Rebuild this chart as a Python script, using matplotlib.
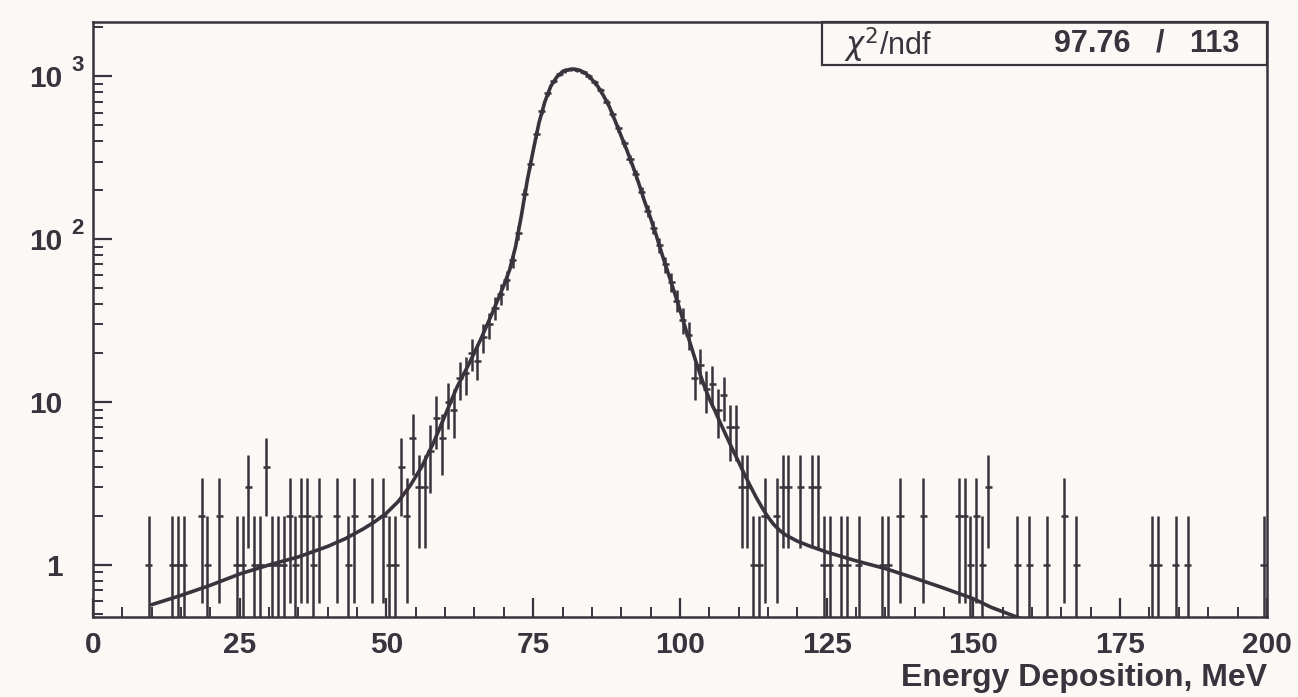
import numpy as np
import matplotlib.pyplot as plt
from matplotlib.ticker import FixedLocator, NullFormatter

plt.rcParams['font.family'] = ['Liberation Sans', 'DejaVu Sans']

# 1 MeV bins: centre (MeV) and counts
lo_e = [9.5, 13.5, 14.5, 15.5, 18.5, 19.5, 21.5, 24.5, 25.5, 26.5, 27.5, 28.5,
        29.5, 30.5, 31.5, 32.5, 33.5, 34.5, 35.5, 36.5, 37.5, 38.5, 41.5, 43.5,
        44.5, 47.5, 49.5, 50.5, 51.5, 52.5, 53.5, 54.5, 55.5]
lo_n = [1, 1, 1, 1, 2, 1, 2, 1, 1, 3, 1, 1,
        4, 1, 1, 1, 2, 1, 2, 2, 1, 2, 2, 1,
        2, 2, 2, 1, 1, 4, 2, 6, 3]

peak_e = [56.5, 57.5, 58.5, 59.5, 60.5, 61.5, 62.5, 63.5, 64.5, 65.5, 66.5,
          67.5, 68.5, 69.5, 70.5, 71.5, 72.5, 73.5, 74.5, 75.5, 76.5, 77.5,
          78.5, 79.5, 80.5, 81.5, 82.5, 83.5, 84.5, 85.5, 86.5, 87.5, 88.5,
          89.5, 90.5, 91.5, 92.5, 93.5, 94.5, 95.5, 96.5, 97.5, 98.5, 99.5,
          100.5, 101.5, 102.5, 103.5, 104.5, 105.5, 106.5, 107.5, 108.5,
          109.5, 110.5, 111.5]
peak_n = [3, 5, 8, 6, 10, 9, 14, 15, 20, 18, 25,
          30, 38, 46, 56, 75, 110, 190, 290, 440, 610, 790,
          940, 1040, 1090, 1110, 1100, 1070, 1000, 920, 820, 700, 590,
          480, 390, 310, 250, 195, 150, 118, 92, 70, 55, 42,
          32, 26, 14, 17, 12, 13, 9, 11, 7,
          7, 3, 3]

hi_e = [112.5, 113.5, 114.5, 116.5, 117.5, 118.5, 120.5, 122.5, 123.5, 124.5,
        125.5, 127.5, 128.5, 130.5, 134.5, 135.5, 137.5, 141.5, 147.5, 148.5,
        149.5, 150.5, 151.5, 152.5, 157.5, 159.5, 162.5, 165.5, 167.5, 180.5,
        181.5, 184.5, 186.5, 199.5]
hi_n = [1, 1, 2, 2, 3, 3, 3, 3, 3, 1,
        1, 1, 1, 1, 1, 1, 2, 2, 2, 2,
        1, 2, 1, 3, 1, 1, 1, 2, 1, 1,
        1, 1, 1, 1]

# fitted curve, points
fit_e = [10, 15, 20, 25, 30, 35, 40, 43, 46, 48, 50, 52, 54, 56, 58, 60, 62,
         64, 66, 68, 70, 71, 72, 73, 74, 75, 76, 77, 78, 79, 80, 81, 82, 83,
         84, 85, 86, 87, 88, 89, 90, 91, 92, 93, 94, 95, 96, 97, 98, 99, 100,
         101, 102, 103, 104, 105, 106, 107, 108, 109, 110, 111, 112, 113, 114,
         115, 116, 117, 118, 120, 122, 125, 130, 135, 140, 145, 150, 153, 156,
         158]
fit_v = [0.57, 0.65, 0.75, 0.88, 1.0, 1.12, 1.3, 1.45, 1.66, 1.84, 2.08,
         2.45, 3.05, 4.0, 5.6, 8.3, 12.3, 17, 24, 35, 52, 65, 90, 140, 230,
         350, 520, 700, 870, 990, 1070, 1100, 1110, 1090, 1040, 960, 870, 760,
         650, 530, 430, 350, 280, 220, 170, 135, 105, 80, 62, 48, 37, 28, 21.5,
         16.5, 13, 10.5, 8.8, 7.3, 6.1, 5.1, 4.3, 3.6, 3.05, 2.6, 2.25, 1.97,
         1.77, 1.63, 1.53, 1.4, 1.31, 1.2, 1.06, 0.95, 0.83, 0.72, 0.62, 0.55,
         0.5, 0.47]

x_ticks = [0, 25, 50, 75, 100, 125, 150, 175, 200]
y_ticks = [1, 10, 100, 1000]
y_labels = ['1', '10', '10', '10']
y_sups = {100: '2', 1000: '3'}
chi2_label = r'$\chi^2$/ndf'
chi2_value = '97.76   /   113'
x_title = 'Energy Deposition, MeV'

ink = '#3a323c'
paper = '#fbf9f6'

fig = plt.figure(figsize=(12.98, 6.97), dpi=100, facecolor=paper)
ax = fig.add_axes([0.0716, 0.115, 0.9044, 0.853])
ax.set_facecolor(paper)
ax.set_yscale('log')
ax.set_xlim(0, 200)
ax.set_ylim(0.48, 2150)

# data points with sqrt(N) errors
e_all = np.array(lo_e + peak_e + hi_e)
n_all = np.array(lo_n + peak_n + hi_n, dtype=float)
err = np.sqrt(n_all)
low = np.clip(n_all - err, 0.3, None)
ax.vlines(e_all, low, n_all + err, color=ink, lw=1.8)
ax.hlines(n_all, e_all - 0.6, e_all + 0.6, color=ink, lw=1.8)

ax.plot(fit_e, fit_v, color=ink, lw=2.6, solid_capstyle='round')

for s in ax.spines.values():
    s.set_color(ink)
    s.set_linewidth(1.8)

ax.xaxis.set_major_locator(FixedLocator(x_ticks))
ax.xaxis.set_minor_locator(FixedLocator(np.arange(0, 201, 5)))
ax.set_xticklabels([str(t) for t in x_ticks])
ax.yaxis.set_major_locator(FixedLocator(y_ticks))
ax.yaxis.set_minor_locator(FixedLocator(
    [m * 10.0 ** d for d in range(-1, 4) for m in range(2, 10)]))
ax.yaxis.set_minor_formatter(NullFormatter())
ax.set_yticklabels(y_labels)

ax.tick_params(which='both', direction='in', color=ink, top=False, right=False,
               labelcolor=ink)
ax.tick_params(which='major', length=14, width=1.6, labelsize=21.5)
ax.tick_params(which='minor', length=7.5, width=1.4)
ax.tick_params(axis='x', pad=10)
ax.tick_params(axis='y', pad=22)
for lab in ax.get_xticklabels() + ax.get_yticklabels():
    lab.set_fontweight('bold')

for val, sup in y_sups.items():
    ax.annotate(sup, xy=(0, val), xycoords=('axes fraction', 'data'),
                xytext=(-11, 8), textcoords='offset points', ha='center',
                va='center', fontsize=16, fontweight='bold', color=ink)

ax.text(1.0, -0.1025, x_title, transform=ax.transAxes, ha='right',
        va='center', fontsize=23, fontweight='bold', color=ink)

# fit statistics box
box = plt.Rectangle((0.621, 0.928), 0.379, 0.072, transform=ax.transAxes,
                    facecolor=paper, edgecolor=ink, lw=1.6, clip_on=False)
ax.add_patch(box)
ax.text(0.64, 0.962, chi2_label, transform=ax.transAxes, ha='left',
        va='center', fontsize=22, color=ink)
ax.text(0.977, 0.964, chi2_value, transform=ax.transAxes, ha='right',
        va='center', fontsize=22, fontweight='bold', color=ink)

fig.savefig('out.png', dpi=100, facecolor=paper)
